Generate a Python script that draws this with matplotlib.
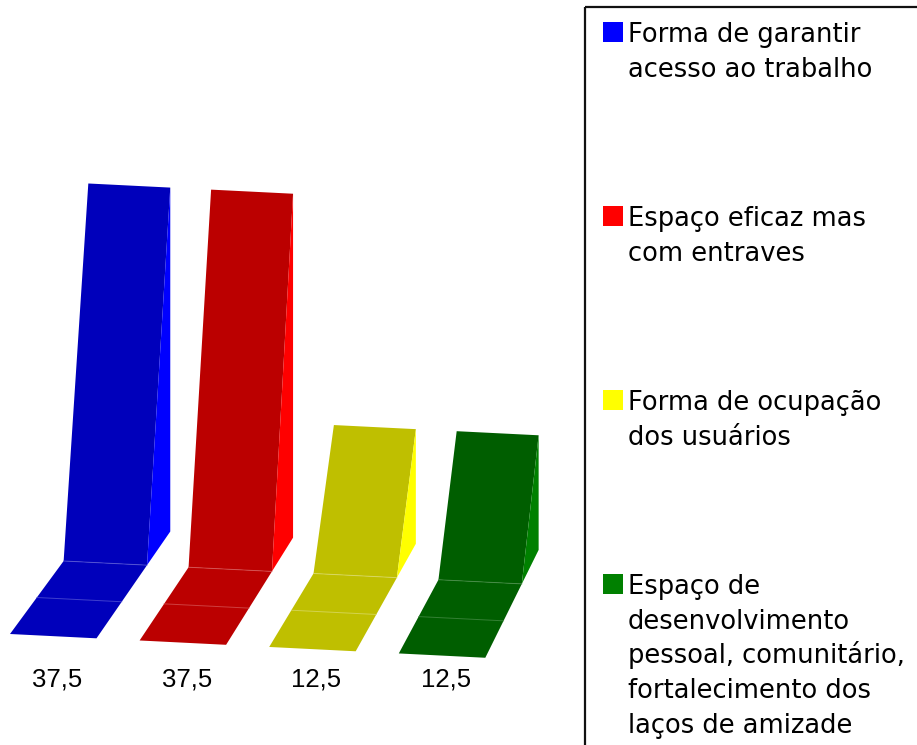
import matplotlib.pyplot as plt
from matplotlib.patches import Polygon, Rectangle

# dados
categorias = ['Forma de garantir\nacesso ao trabalho',
              'Espaço eficaz mas\ncom entraves',
              'Forma de ocupação\ndos usuários',
              'Espaço de\ndesenvolvimento\npessoal, comunitário,\nfortalecimento dos\nlaços de amizade']
valores = [37.5, 37.5, 12.5, 12.5]
rotulos = ['37,5', '37,5', '12,5', '12,5']

cor_frente = ['#0000bb', '#bb0000', '#bfbf00', '#005e00']
cor_lado = ['#0000ff', '#ff0000', '#ffff00', '#008000']
cor_linha = ['#5a5ad6', '#d85a5a', '#dcdc70', '#4a8f4a']

# "perspectiva" simples em pixels
VX, VY = 1500.0, -1394.0
X0, Y0 = 10.0, 634.0
PASSO = 129.6
LARG = 86.5
INCL = 0.05
ESCALA = 9.68
FUNDO = 2.92


def proj(x, v, z):
    px = X0 + x
    py = Y0 + INCL * x - ESCALA * v
    f = 1 - 0.018 * z
    return (VX + (px - VX) * f, VY + (py - VY) * f)


plt.rcParams['font.family'] = ['Liberation Sans', 'DejaVu Sans']
fig = plt.figure(figsize=(9.17, 7.45), dpi=100)
ax = fig.add_axes([0, 0, 1, 1])
ax.set_xlim(0, 917)
ax.set_ylim(745, 0)
ax.axis('off')

for i, v in enumerate(valores):
    xl = i * PASSO
    xr = xl + LARG
    chao = [proj(xl, 0, 0), proj(xr, 0, 0), proj(xr, 0, 2), proj(xl, 0, 2)]
    frente = [proj(xl, 0, 2), proj(xr, 0, 2), proj(xr, v, FUNDO), proj(xl, v, FUNDO)]
    lado = [proj(xr, 0, 2), proj(xr, 0, FUNDO), proj(xr, v, FUNDO)]
    ax.add_patch(Polygon(chao, closed=True, fc=cor_frente[i], ec='none'))
    ax.add_patch(Polygon(frente, closed=True, fc=cor_frente[i], ec='none'))
    ax.add_patch(Polygon(lado, closed=True, fc=cor_lado[i], ec='none'))
    for z in (1, 2):
        a = proj(xl, 0, z)
        b = proj(xr, 0, z)
        ax.plot([a[0], b[0]], [a[1], b[1]], color=cor_linha[i], lw=0.7, alpha=0.7)
    cx = proj(xl + LARG / 2, 0, 0)[0]
    ax.text(cx + 4, 686, rotulos[i], fontsize=18.5, ha='center', va='baseline')

# legenda
ax.add_patch(Rectangle((585, 7), 500, 800, fill=False, ec='#111111', lw=1.6))
for i, nome in enumerate(categorias):
    base = 42 + 184 * i
    ax.add_patch(Rectangle((603, base - 20), 20, 20, fc=cor_lado[i], ec='none'))
    for k, linha in enumerate(nome.split('\n')):
        ax.text(628, base + 34.7 * k, linha, fontsize=18.5, family='DejaVu Sans',
                ha='left', va='baseline')

plt.savefig('out.png', dpi=100)
